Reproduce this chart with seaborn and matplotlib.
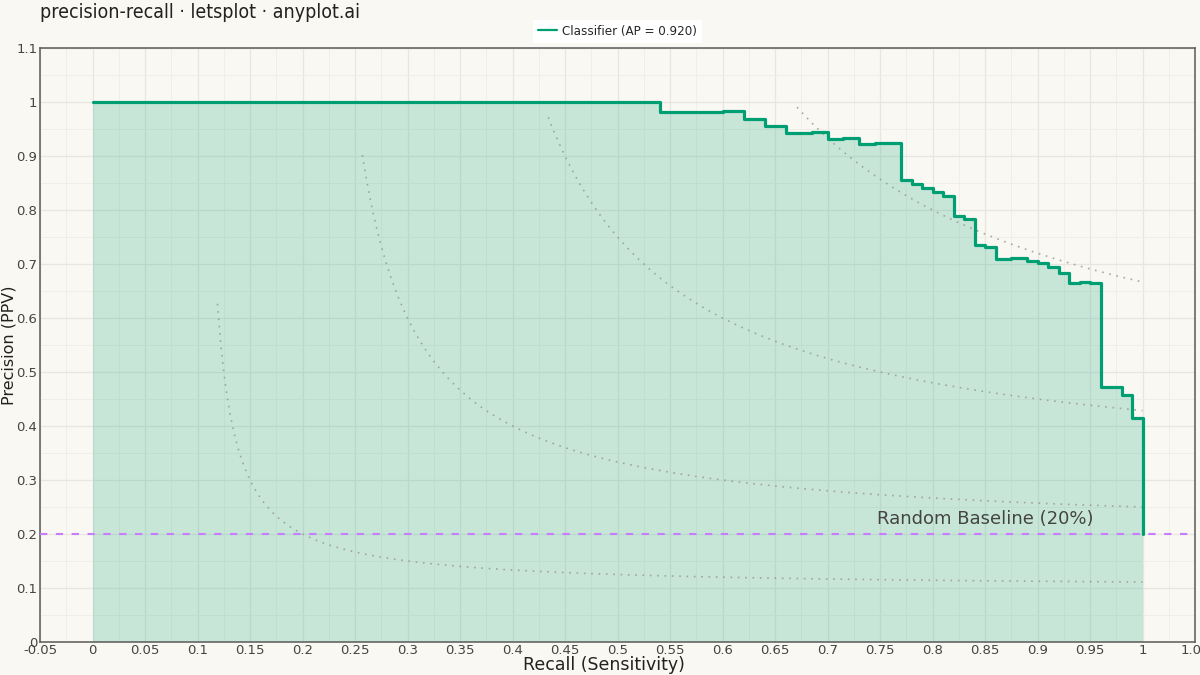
import numpy as np
import pandas as pd
import matplotlib
matplotlib.use("Agg")
import matplotlib.pyplot as plt
import seaborn as sns
from matplotlib.ticker import MultipleLocator, FuncFormatter

# --- data ---
recall = [0.0, 0.54, 0.60, 0.62, 0.64, 0.66, 0.685, 0.70, 0.715, 0.73, 0.745, 0.77,
          0.78, 0.79, 0.80, 0.81, 0.82, 0.83, 0.84, 0.85, 0.86, 0.875, 0.89, 0.90,
          0.91, 0.92, 0.93, 0.94, 0.95, 0.96, 0.98, 0.99, 1.00]
precision = [1.0, 0.981, 0.984, 0.968, 0.956, 0.942, 0.945, 0.932, 0.934, 0.923, 0.925, 0.856,
             0.848, 0.840, 0.833, 0.826, 0.788, 0.783, 0.736, 0.732, 0.709, 0.711, 0.706, 0.702,
             0.695, 0.683, 0.664, 0.667, 0.665, 0.473, 0.457, 0.414, 0.2]
f1_levels = [0.2, 0.4, 0.6, 0.8]
f1_start_recall = [0.119, 0.257, 0.434, 0.671]
baseline = 0.2
ap_score = 0.920

green = "#009E73"
purple = "#C77DFF"
bg = "#FAF8F2"

sns.set_style("whitegrid")
plt.rcParams['font.family'] = ['DejaVu Sans']
plt.rcParams['figure.facecolor'] = bg
plt.rcParams['axes.facecolor'] = bg

fig = plt.figure(figsize=(12, 6.75), dpi=100)
ax = fig.add_axes([40 / 1200, 33 / 675, 1155 / 1200, 594 / 675])

# iso-F1 guide curves
for f, r0 in zip(f1_levels, f1_start_recall):
    r = np.linspace(r0, 1.0, 300)
    p = f * r / (2 * r - f)
    ax.plot(r, p, color="#999999", lw=1.2, ls=(0, (1, 3.4)), alpha=0.85, zorder=2)

# area under curve
ax.fill_between(recall, precision, step="post", color=green, alpha=0.2, lw=0, zorder=1)

pr = pd.DataFrame({"Recall": recall, "Precision": precision})
sns.lineplot(data=pr, x="Recall", y="Precision", ax=ax, color=green, lw=2.3,
             drawstyle="steps-post", sort=False, estimator=None,
             label=f"Classifier (AP = {ap_score:.3f})", zorder=4)

ax.axhline(baseline, color=purple, lw=1.5, ls=(0, (3.5, 4.1)), zorder=3)
ax.text(0.747, baseline + 0.012, "Random Baseline (20%)", fontsize=13,
        color="#444444", ha="left", va="bottom", zorder=5)

ax.set_xlim(-0.05, 1.05)
ax.set_ylim(0, 1.1)
ax.xaxis.set_major_locator(MultipleLocator(0.05))
ax.xaxis.set_minor_locator(MultipleLocator(0.025))
ax.yaxis.set_major_locator(MultipleLocator(0.1))
ax.yaxis.set_minor_locator(MultipleLocator(0.05))
fmt = FuncFormatter(lambda v, _: f"{round(v, 3):g}" if abs(v) > 1e-9 else "0")
ax.xaxis.set_major_formatter(fmt)
ax.yaxis.set_major_formatter(fmt)
ax.grid(which="major", color="#E8E6E0", lw=0.9)
ax.grid(which="minor", color="#F0EEE8", lw=0.7)
ax.tick_params(which="both", length=0, labelsize=9.5, colors="#444444")
ax.tick_params(axis="x", pad=1.5)
ax.tick_params(axis="y", pad=2)

for s in ax.spines.values():
    s.set_visible(True)
    s.set_color("#5a5a5a")
    s.set_linewidth(1.1)

ax.set_xlabel("Recall (Sensitivity)", fontsize=12.5, color="#222222")
ax.set_ylabel("Precision (PPV)", fontsize=11.5, color="#222222")
ax.xaxis.set_label_coords(564 / 1155, -14 / 594)
ax.yaxis.set_label_coords(-31 / 1155, 0.5)
ax.yaxis.label.set_va("center")

leg = ax.legend(loc="lower center", bbox_to_anchor=(0.5, 1.008), borderaxespad=0,
                frameon=True, fancybox=False, facecolor="#FFFFFF", edgecolor="none",
                framealpha=1, handlelength=1.4, handletextpad=0.4,
                prop={"stretch": "condensed", "size": 9.5})
for h in leg.get_lines():
    h.set_linewidth(1.6)

fig.text(40 / 1200, 0.995, "precision-recall · letsplot · anyplot.ai", fontsize=14,
         fontstretch="condensed", color="#222222", ha="left", va="top")

fig.savefig("out.png", dpi=100, facecolor=bg)
